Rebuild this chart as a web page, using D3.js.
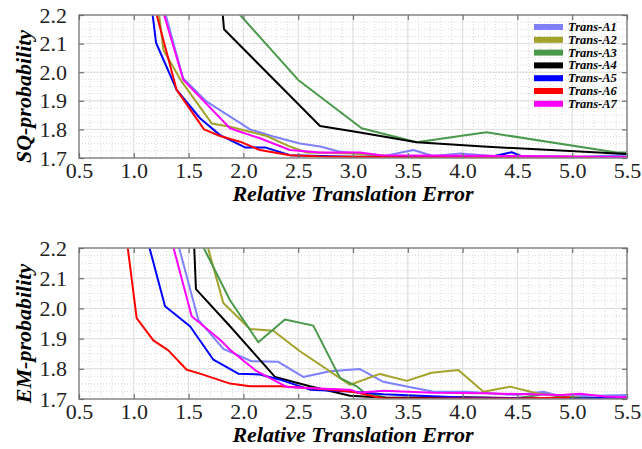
<!DOCTYPE html>
<html>
<head>
<meta charset="utf-8">
<script src="https://cdn.jsdelivr.net/npm/d3@7"></script>
<style>
  body { margin: 0; background: #fff; }
  svg { display: block; }
  text { font-family: "Liberation Serif", "Times New Roman", Times, "DejaVu Serif", serif; }
</style>
</head>
<body>
<svg id="chart" width="642" height="449"></svg>
<script>
// series names and colours
const names = ['Trans-A1', 'Trans-A2', 'Trans-A3', 'Trans-A4', 'Trans-A5', 'Trans-A6', 'Trans-A7'];
const colors = ['#8080ff', '#a3a22a', '#4a984a', '#000000', '#0000ff', '#ff0000', '#ff00ff'];

const xTicks = [0.5, 1.0, 1.5, 2.0, 2.5, 3.0, 3.5, 4.0, 4.5, 5.0, 5.5];
const yTicks = [1.7, 1.8, 1.9, 2.0, 2.1, 2.2];

// SQ-probability panel, [error, probability]
const sqA1 = [[1.22, 2.3], [1.45, 1.979], [1.665, 1.897], [1.969, 1.823], [2.06, 1.80], [2.273, 1.775], [2.516, 1.751], [2.70, 1.740], [2.88, 1.722], [3.06, 1.716], [3.3, 1.708], [3.55, 1.728], [3.73, 1.707], [3.98, 1.716], [4.19, 1.710], [4.6, 1.699], [5.0, 1.703], [5.5, 1.711]];
const sqA2 = [[1.20, 2.3], [1.27, 2.078], [1.437, 1.967], [1.711, 1.821], [1.878, 1.809], [2.06, 1.792], [2.212, 1.777], [2.425, 1.740], [2.577, 1.719], [3.0, 1.716], [3.3, 1.707], [4.0, 1.705], [4.5, 1.704], [5.5, 1.703]];
const sqA3 = [[1.90, 2.23], [2.50, 1.973], [3.079, 1.804], [3.581, 1.755], [4.217, 1.790], [5.406, 1.719], [5.5, 1.719]];
const sqA4 = [[1.79, 2.3], [1.823, 2.150], [2.699, 1.812], [3.064, 1.789], [3.581, 1.755], [4.19, 1.740], [5.5, 1.714]];
const sqA5 = [[1.14, 2.3], [1.203, 2.103], [1.391, 1.938], [1.604, 1.839], [1.787, 1.780], [2.015, 1.737], [2.197, 1.737], [2.425, 1.710], [3.0, 1.704], [4.0, 1.705], [4.30, 1.708], [4.448, 1.720], [4.55, 1.705], [5.5, 1.702]];
const sqA6 = [[1.18, 2.3], [1.209, 2.2], [1.391, 1.938], [1.641, 1.800], [1.787, 1.777], [1.969, 1.757], [2.15, 1.728], [2.425, 1.710], [2.70, 1.705], [3.5, 1.703], [5.0, 1.704], [5.5, 1.702]];
const sqA7 = [[1.20, 2.3], [1.452, 1.973], [1.878, 1.804], [1.969, 1.792], [2.151, 1.769], [2.425, 1.728], [2.699, 1.719], [3.064, 1.719], [3.25, 1.710], [4.0, 1.708], [5.0, 1.705], [5.5, 1.703]];

// EM-probability panel, [error, probability]
const emA1 = [[1.34, 2.3], [1.588, 1.963], [1.817, 1.866], [2.075, 1.825], [2.318, 1.823], [2.546, 1.773], [2.79, 1.792], [3.064, 1.799], [3.276, 1.757], [3.733, 1.724], [4.037, 1.724], [4.494, 1.713], [4.737, 1.724], [4.9, 1.708], [5.5, 1.713]];
const emA2 = [[1.60, 2.3], [1.817, 2.018], [2.06, 1.932], [2.273, 1.926], [2.516, 1.858], [2.973, 1.747], [3.246, 1.783], [3.49, 1.760], [3.718, 1.787], [3.961, 1.796], [4.19, 1.724], [4.433, 1.741], [4.676, 1.719], [4.9, 1.710], [5.1, 1.703], [5.5, 1.702]];
const emA3 = [[1.50, 2.3], [1.878, 2.027], [2.136, 1.888], [2.379, 1.963], [2.638, 1.943], [2.881, 1.770], [3.034, 1.742], [3.094, 1.724], [3.3, 1.704], [4.5, 1.703], [4.75, 1.716], [5.0, 1.703], [5.5, 1.702]];
const emA4 = [[1.54, 2.3], [1.567, 2.064], [1.878, 1.941], [2.288, 1.773], [2.607, 1.742], [2.973, 1.711], [3.3, 1.704], [4.0, 1.706], [4.6, 1.702], [5.5, 1.701]];
const emA5 = [[1.07, 2.3], [1.285, 2.007], [1.513, 1.941], [1.726, 1.830], [1.953, 1.784], [2.151, 1.781], [2.334, 1.764], [2.607, 1.731], [2.973, 1.725], [3.276, 1.716], [4.0, 1.705], [5.0, 1.700], [5.5, 1.706]];
const emA6 = [[0.91, 2.3], [1.026, 1.968], [1.178, 1.894], [1.315, 1.861], [1.483, 1.797], [1.604, 1.784], [1.878, 1.751], [2.06, 1.742], [2.334, 1.742], [2.607, 1.736], [2.973, 1.725], [3.064, 1.719], [3.276, 1.702], [4.5, 1.702], [4.98, 1.705]];
const emA7 = [[1.29, 2.3], [1.528, 1.974], [1.787, 1.896], [1.878, 1.863], [2.121, 1.792], [2.395, 1.740], [2.638, 1.736], [2.973, 1.731], [3.05, 1.721], [3.276, 1.727], [3.733, 1.721], [4.19, 1.719], [4.9, 1.713], [5.07, 1.717], [5.3, 1.708], [5.5, 1.706]];

const sqSeries = [sqA1, sqA2, sqA3, sqA4, sqA5, sqA6, sqA7];
const emSeries = [emA1, emA2, emA3, emA4, emA5, emA6, emA7];

const svg = d3.select('#chart');
const serif = '"Liberation Serif", "Times New Roman", Times, "DejaVu Serif", serif';
const left = 79, right = 627;

const x = d3.scaleLinear().domain([0.5, 5.5]).range([left, right]);

function panel(id, top, bottom, series, ylabel, showLegend) {
  const y = d3.scaleLinear().domain([1.7, 2.2]).range([bottom, top]);
  const g = svg.append('g');

  g.append('clipPath').attr('id', 'clip-' + id)
    .append('rect').attr('x', left).attr('y', top)
    .attr('width', right - left).attr('height', bottom - top);

  // minor grid (dotted)
  g.append('g').selectAll('line').data(d3.range(0.6, 5.5, 0.1))
    .join('line')
    .attr('x1', d => x(d)).attr('x2', d => x(d))
    .attr('y1', top).attr('y2', bottom)
    .style('stroke', '#cfcfcf').style('stroke-width', 0.8)
    .style('stroke-dasharray', '1,2');
  g.append('g').selectAll('line').data(d3.range(1.725, 2.2, 0.025))
    .join('line')
    .attr('x1', left).attr('x2', right)
    .attr('y1', d => y(d)).attr('y2', d => y(d))
    .style('stroke', '#cfcfcf').style('stroke-width', 0.8)
    .style('stroke-dasharray', '1,2');

  // major grid
  g.append('g').selectAll('line').data(xTicks)
    .join('line')
    .attr('x1', d => x(d)).attr('x2', d => x(d))
    .attr('y1', top).attr('y2', bottom)
    .style('stroke', '#dedede').style('stroke-width', 1);
  g.append('g').selectAll('line').data(yTicks)
    .join('line')
    .attr('x1', left).attr('x2', right)
    .attr('y1', d => y(d)).attr('y2', d => y(d))
    .style('stroke', '#dedede').style('stroke-width', 1);

  // lines
  const line = d3.line().x(d => x(d[0])).y(d => y(d[1]));
  g.append('g').attr('clip-path', `url(#clip-${id})`)
    .selectAll('path').data(series)
    .join('path')
    .attr('d', line)
    .style('fill', 'none')
    .style('stroke', (d, i) => colors[i])
    .style('stroke-width', 2)
    .style('stroke-linejoin', 'round');

  // frame
  g.append('rect')
    .attr('x', left).attr('y', top)
    .attr('width', right - left).attr('height', bottom - top)
    .style('fill', 'none').style('stroke', '#8a8a8a').style('stroke-width', 1.5);

  // axes with inward ticks
  const axStyle = a => {
    a.attr('font-family', null);
    a.select('.domain').remove();
    a.selectAll('.tick line').style('stroke', '#707070').style('stroke-width', 1.2);
    a.selectAll('.tick text').style('font-family', serif).style('font-size', '22px').style('fill', '#222');
  };
  g.append('g').attr('transform', `translate(0,${bottom})`)
    .call(d3.axisBottom(x).tickValues(xTicks).tickFormat(d3.format('.1f')).tickSizeInner(-5).tickPadding(4))
    .call(axStyle);
  g.append('g').attr('transform', `translate(0,${top})`)
    .call(d3.axisTop(x).tickValues(xTicks).tickFormat('').tickSizeInner(-5))
    .call(axStyle);
  g.append('g').attr('transform', `translate(${left},0)`)
    .call(d3.axisLeft(y).tickValues(yTicks).tickFormat(d3.format('.1f')).tickSizeInner(-5).tickPadding(12))
    .call(axStyle);
  g.append('g').attr('transform', `translate(${right},0)`)
    .call(d3.axisRight(y).tickValues(yTicks).tickFormat('').tickSizeInner(-5))
    .call(axStyle);

  // titles
  g.append('text')
    .attr('x', (left + right) / 2).attr('y', bottom + 43)
    .attr('text-anchor', 'middle')
    .style('font-family', serif).style('font-size', '22px')
    .style('font-weight', 'bold').style('font-style', 'italic')
    .text('Relative Translation Error');
  g.append('text')
    .attr('transform', `translate(31,${(top + bottom) / 2 + 10}) rotate(-90)`)
    .attr('text-anchor', 'middle')
    .style('font-family', serif).style('font-size', '22px')
    .style('font-weight', 'bold').style('font-style', 'italic')
    .text(ylabel);

  if (showLegend) {
    const lg = g.append('g').selectAll('g').data(names)
      .join('g')
      .attr('transform', (d, i) => `translate(534,${27 + i * 12.8})`);
    lg.append('rect')
      .attr('x', 0).attr('y', -3).attr('width', 29).attr('height', 6)
      .style('fill', (d, i) => colors[i]);
    lg.append('text')
      .attr('x', 34).attr('y', 4)
      .style('font-family', serif).style('font-size', '12.5px')
      .style('font-weight', 'bold').style('font-style', 'italic')
      .text(d => d);
  }
}

panel('sq', 15, 158, sqSeries, 'SQ-probability', true);
panel('em', 248, 399, emSeries, 'EM-probability', false);
</script>
</body>
</html>
